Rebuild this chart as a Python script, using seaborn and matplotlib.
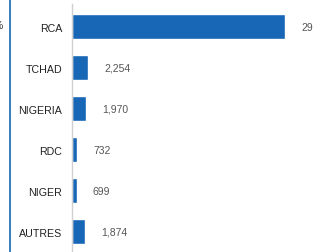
import matplotlib
matplotlib.use("Agg")
import matplotlib.pyplot as plt
import pandas as pd
import seaborn as sns
from matplotlib.lines import Line2D

sns.set_theme(style="white")
plt.rcParams["font.family"] = ["Liberation Sans", "DejaVu Sans"]

# data
countries = ["RCA", "TCHAD", "NIGERIA", "RDC", "NIGER", "AUTRES"]
refugees = [29900, 2254, 1970, 732, 699, 1874]

df = pd.DataFrame({"pays": countries, "nombre": refugees})

W, H = 313, 253
fig = plt.figure(figsize=(W / 100, H / 100), dpi=100)

# axes placed in pixel units: y spine starts 5 px from the top
left, top = 72, 5
ax = fig.add_axes([left / W, 0, (W - left) / W, (H - top) / H])

sns.barplot(data=df, x="nombre", y="pays", orient="h", color="#1767B6",
            width=0.61, saturation=1, ax=ax)

ax.set_xlim(0, 29900 * (W - left) / 213)
ax.set_ylim(5.49, -0.55)

ax.bar_label(ax.containers[0], labels=[f"{v:,}" for v in refugees],
             padding=11.5, fontsize=7.5, color="#555555")

ax.set_xlabel("")
ax.set_ylabel("")
ax.set_xticks([])
ax.tick_params(axis="y", length=0, pad=7, labelsize=7.7, labelcolor="#222222")
for s in ["top", "right", "bottom"]:
    ax.spines[s].set_visible(False)
ax.spines["left"].set_color("#d0d0d0")
ax.spines["left"].set_linewidth(1)

# edge of the neighbouring panel seen at the left of the crop
fig.add_artist(Line2D([9.5 / W, 9.5 / W], [0, 1], color="#1767B6", lw=1.2,
                      transform=fig.transFigure))
fig.text(3 / W, 1 - 26 / H, "%", ha="right", va="center", fontsize=7.5,
         color="#333333")

fig.savefig("out.png", dpi=100)
